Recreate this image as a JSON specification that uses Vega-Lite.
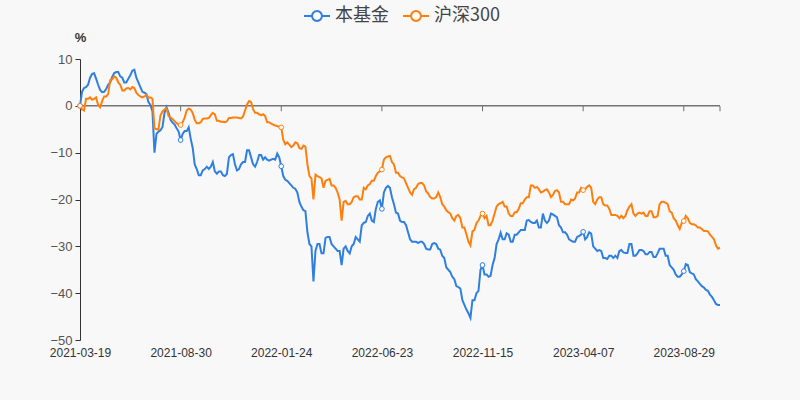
{
  "$schema": "https://vega.github.io/schema/vega-lite/v6.json",
  "width": 640,
  "height": 281,
  "autosize": {"type": "none"},
  "padding": {"left": 80, "top": 59, "right": 80, "bottom": 60},
  "background": "#f8f8f8",
  "config": {
    "view": {"stroke": null},
    "font": "Liberation Sans, Noto Sans CJK SC, sans-serif"
  },
  "datasets": {
    "d": [
      {"date": "2021-03-19", "本基金": 0, "沪深300": 0},
      {"date": "2021-03-23", "本基金": 3.0, "沪深300": -0.8},
      {"date": "2021-03-26", "本基金": 3.8, "沪深300": -1.0},
      {"date": "2021-03-30", "本基金": 4.0, "沪深300": 1.5},
      {"date": "2021-04-01", "本基金": 4.5, "沪深300": 1.5},
      {"date": "2021-04-06", "本基金": 6.0, "沪深300": 1.8},
      {"date": "2021-04-08", "本基金": 6.8, "沪深300": 1.3},
      {"date": "2021-04-12", "本基金": 7.0, "沪深300": 1.5},
      {"date": "2021-04-14", "本基金": 5.8, "沪深300": 1.8},
      {"date": "2021-04-19", "本基金": 4.5, "沪深300": 0.2},
      {"date": "2021-04-21", "本基金": 3.4, "沪深300": -0.3},
      {"date": "2021-04-23", "本基金": 2.9, "沪深300": 1.0},
      {"date": "2021-04-27", "本基金": 3.0, "沪深300": 2.0},
      {"date": "2021-04-30", "本基金": 3.6, "沪深300": 2.0},
      {"date": "2021-05-06", "本基金": 4.5, "沪深300": 2.5},
      {"date": "2021-05-07", "本基金": 5.0, "沪深300": 5.5},
      {"date": "2021-05-10", "本基金": 6.2, "沪深300": 5.7},
      {"date": "2021-05-13", "本基金": 7.0, "沪深300": 6.3},
      {"date": "2021-05-17", "本基金": 7.2, "沪深300": 6.0},
      {"date": "2021-05-20", "本基金": 7.2, "沪深300": 5.0},
      {"date": "2021-05-24", "本基金": 6.3, "沪深300": 4.5},
      {"date": "2021-05-27", "本基金": 6.0, "沪深300": 3.3},
      {"date": "2021-05-31", "本基金": 5.0, "沪深300": 3.3},
      {"date": "2021-06-03", "本基金": 5.0, "沪深300": 3.7},
      {"date": "2021-06-07", "本基金": 5.8, "沪深300": 3.8},
      {"date": "2021-06-09", "本基金": 6.5, "沪深300": 3.5},
      {"date": "2021-06-11", "本基金": 7.5, "沪深300": 4.0},
      {"date": "2021-06-16", "本基金": 7.7, "沪深300": 3.8},
      {"date": "2021-06-18", "本基金": 6.0, "沪深300": 2.8},
      {"date": "2021-06-22", "本基金": 5.0, "沪深300": 2.3},
      {"date": "2021-06-25", "本基金": 4.0, "沪深300": 2.0},
      {"date": "2021-06-29", "本基金": 3.0, "沪深300": 1.8},
      {"date": "2021-07-02", "本基金": 2.8, "沪深300": 2.0},
      {"date": "2021-07-06", "本基金": 2.5, "沪深300": 2.3},
      {"date": "2021-07-09", "本基金": 0.8, "沪深300": 1.8},
      {"date": "2021-07-13", "本基金": 0.2, "沪深300": 1.8},
      {"date": "2021-07-15", "本基金": -1.2, "沪深300": 1.5},
      {"date": "2021-07-19", "本基金": -10.0, "沪深300": -4.8},
      {"date": "2021-07-22", "本基金": -6.0, "沪深300": -5.0},
      {"date": "2021-07-26", "本基金": -5.5, "沪深300": -5.0},
      {"date": "2021-07-28", "本基金": -5.2, "沪深300": -2.0},
      {"date": "2021-08-02", "本基金": -4.5, "沪深300": -1.2},
      {"date": "2021-08-04", "本基金": -1.5, "沪深300": -0.8},
      {"date": "2021-08-06", "本基金": -0.3, "沪深300": -0.5},
      {"date": "2021-08-10", "本基金": -1.5, "沪深300": -2.2},
      {"date": "2021-08-13", "本基金": -3.0, "沪深300": -2.5},
      {"date": "2021-08-17", "本基金": -3.6, "沪深300": -2.8},
      {"date": "2021-08-19", "本基金": -4.0, "沪深300": -3.3},
      {"date": "2021-08-23", "本基金": -4.8, "沪深300": -3.7},
      {"date": "2021-08-26", "本基金": -5.5, "沪深300": -4.0},
      {"date": "2021-08-30", "本基金": -7.3, "沪深300": -4.1},
      {"date": "2021-09-02", "本基金": -6.0, "沪深300": -3.5},
      {"date": "2021-09-06", "本基金": -5.4, "沪深300": -2.5},
      {"date": "2021-09-08", "本基金": -5.4, "沪深300": -1.0},
      {"date": "2021-09-10", "本基金": -4.6, "沪深300": -0.6},
      {"date": "2021-09-15", "本基金": -7.0, "沪深300": -0.8},
      {"date": "2021-09-17", "本基金": -9.0, "沪深300": -1.5},
      {"date": "2021-09-22", "本基金": -12.5, "沪深300": -3.0},
      {"date": "2021-09-23", "本基金": -13.5, "沪深300": -3.7},
      {"date": "2021-09-27", "本基金": -14.8, "沪深300": -3.7},
      {"date": "2021-09-28", "本基金": -14.8, "沪深300": -3.5},
      {"date": "2021-09-30", "本基金": -13.8, "沪深300": -2.8},
      {"date": "2021-10-08", "本基金": -13.5, "沪深300": -2.7},
      {"date": "2021-10-09", "本基金": -13.0, "沪深300": -2.7},
      {"date": "2021-10-11", "本基金": -13.5, "沪深300": -2.6},
      {"date": "2021-10-13", "本基金": -13.0, "沪深300": -2.0},
      {"date": "2021-10-15", "本基金": -12.0, "沪深300": -1.5},
      {"date": "2021-10-19", "本基金": -14.0, "沪深300": -1.8},
      {"date": "2021-10-22", "本基金": -14.5, "沪深300": -3.2},
      {"date": "2021-10-26", "本基金": -14.0, "沪深300": -3.2},
      {"date": "2021-10-28", "本基金": -14.0, "沪深300": -3.4},
      {"date": "2021-11-01", "本基金": -14.8, "沪深300": -3.4},
      {"date": "2021-11-03", "本基金": -15.0, "沪深300": -3.5},
      {"date": "2021-11-05", "本基金": -14.5, "沪深300": -3.3},
      {"date": "2021-11-09", "本基金": -11.0, "沪深300": -2.6},
      {"date": "2021-11-11", "本基金": -10.5, "沪深300": -2.6},
      {"date": "2021-11-15", "本基金": -10.3, "沪深300": -2.5},
      {"date": "2021-11-17", "本基金": -12.5, "沪深300": -2.5},
      {"date": "2021-11-19", "本基金": -13.8, "沪深300": -2.5},
      {"date": "2021-11-23", "本基金": -13.5, "沪深300": -2.6},
      {"date": "2021-11-26", "本基金": -12.5, "沪深300": -2.7},
      {"date": "2021-11-30", "本基金": -12.0, "沪深300": -2.3},
      {"date": "2021-12-02", "本基金": -12.0, "沪深300": -1.0},
      {"date": "2021-12-06", "本基金": -9.5, "沪深300": 0.3},
      {"date": "2021-12-08", "本基金": -9.5, "沪深300": 1.0},
      {"date": "2021-12-10", "本基金": -11.0, "沪深300": 0.8},
      {"date": "2021-12-14", "本基金": -12.5, "沪深300": -0.7},
      {"date": "2021-12-16", "本基金": -13.0, "沪深300": -1.5},
      {"date": "2021-12-20", "本基金": -12.0, "沪深300": -1.5},
      {"date": "2021-12-23", "本基金": -10.5, "沪深300": -1.8},
      {"date": "2021-12-27", "本基金": -10.5, "沪深300": -2.0},
      {"date": "2021-12-29", "本基金": -11.5, "沪深300": -1.8},
      {"date": "2021-12-31", "本基金": -11.0, "沪深300": -2.2},
      {"date": "2022-01-04", "本基金": -11.5, "沪深300": -3.5},
      {"date": "2022-01-06", "本基金": -11.7, "沪深300": -3.5},
      {"date": "2022-01-10", "本基金": -11.5, "沪深300": -3.8},
      {"date": "2022-01-12", "本基金": -11.3, "沪深300": -4.0},
      {"date": "2022-01-14", "本基金": -11.5, "沪深300": -4.2},
      {"date": "2022-01-18", "本基金": -10.2, "沪深300": -4.3},
      {"date": "2022-01-20", "本基金": -11.0, "沪深300": -4.5},
      {"date": "2022-01-24", "本基金": -12.9, "沪深300": -4.6},
      {"date": "2022-01-26", "本基金": -15.0, "沪深300": -7.3},
      {"date": "2022-01-28", "本基金": -15.8, "沪深300": -8.2},
      {"date": "2022-02-02", "本基金": -16.0, "沪深300": -7.8},
      {"date": "2022-02-07", "本基金": -16.5, "沪深300": -8.3},
      {"date": "2022-02-09", "本基金": -17.0, "沪深300": -8.8},
      {"date": "2022-02-11", "本基金": -17.5, "沪深300": -8.5},
      {"date": "2022-02-15", "本基金": -17.7, "沪深300": -7.8},
      {"date": "2022-02-17", "本基金": -18.5, "沪深300": -8.0},
      {"date": "2022-02-21", "本基金": -20.5, "沪深300": -9.0},
      {"date": "2022-02-23", "本基金": -21.5, "沪深300": -9.2},
      {"date": "2022-02-25", "本基金": -22.3, "沪深300": -8.5},
      {"date": "2022-03-01", "本基金": -22.5, "沪深300": -8.7},
      {"date": "2022-03-03", "本基金": -27.0, "沪深300": -12.5},
      {"date": "2022-03-07", "本基金": -29.5, "沪深300": -15.0},
      {"date": "2022-03-10", "本基金": -30.0, "沪深300": -15.5},
      {"date": "2022-03-14", "本基金": -37.5, "沪深300": -20.0},
      {"date": "2022-03-16", "本基金": -31.0, "沪深300": -14.7},
      {"date": "2022-03-18", "本基金": -29.5, "沪深300": -15.0},
      {"date": "2022-03-22", "本基金": -29.5, "沪深300": -15.2},
      {"date": "2022-03-25", "本基金": -31.5, "沪深300": -15.5},
      {"date": "2022-03-29", "本基金": -31.5, "沪深300": -17.5},
      {"date": "2022-03-31", "本基金": -28.2, "沪深300": -16.0},
      {"date": "2022-04-01", "本基金": -28.0, "沪深300": -15.8},
      {"date": "2022-04-06", "本基金": -28.0, "沪深300": -15.6},
      {"date": "2022-04-08", "本基金": -29.5, "沪深300": -17.0},
      {"date": "2022-04-12", "本基金": -30.0, "沪深300": -17.0},
      {"date": "2022-04-14", "本基金": -30.5, "沪深300": -17.5},
      {"date": "2022-04-18", "本基金": -31.0, "沪深300": -18.5},
      {"date": "2022-04-21", "本基金": -31.0, "沪深300": -20.0},
      {"date": "2022-04-25", "本基金": -34.0, "沪深300": -24.5},
      {"date": "2022-04-27", "本基金": -30.5, "沪深300": -20.5},
      {"date": "2022-04-29", "本基金": -30.0, "沪深300": -20.3},
      {"date": "2022-05-04", "本基金": -31.0, "沪深300": -21.0},
      {"date": "2022-05-06", "本基金": -31.5, "沪深300": -21.0},
      {"date": "2022-05-10", "本基金": -30.0, "沪深300": -20.5},
      {"date": "2022-05-12", "本基金": -29.5, "沪深300": -19.5},
      {"date": "2022-05-16", "本基金": -28.0, "沪深300": -19.3},
      {"date": "2022-05-18", "本基金": -28.5, "沪深300": -19.3},
      {"date": "2022-05-20", "本基金": -29.0, "沪深300": -20.0},
      {"date": "2022-05-24", "本基金": -25.5, "沪深300": -20.0},
      {"date": "2022-05-26", "本基金": -25.0, "沪深300": -17.5},
      {"date": "2022-05-30", "本基金": -24.8, "沪深300": -17.8},
      {"date": "2022-06-02", "本基金": -23.5, "沪深300": -17.0},
      {"date": "2022-06-06", "本基金": -23.0, "沪深300": -16.7},
      {"date": "2022-06-08", "本基金": -24.5, "沪深300": -16.0},
      {"date": "2022-06-10", "本基金": -24.8, "沪深300": -16.0},
      {"date": "2022-06-14", "本基金": -22.0, "沪深300": -15.0},
      {"date": "2022-06-17", "本基金": -20.5, "沪深300": -14.3},
      {"date": "2022-06-21", "本基金": -20.2, "沪深300": -14.0},
      {"date": "2022-06-23", "本基金": -22.0, "沪深300": -13.6},
      {"date": "2022-06-27", "本基金": -18.5, "沪深300": -11.5},
      {"date": "2022-06-29", "本基金": -17.5, "沪深300": -11.0},
      {"date": "2022-07-01", "本基金": -17.1, "沪深300": -10.8},
      {"date": "2022-07-05", "本基金": -17.5, "沪深300": -10.7},
      {"date": "2022-07-07", "本基金": -19.5, "沪深300": -12.0},
      {"date": "2022-07-11", "本基金": -21.0, "沪深300": -12.5},
      {"date": "2022-07-13", "本基金": -22.8, "沪深300": -14.3},
      {"date": "2022-07-15", "本基金": -23.0, "沪深300": -14.3},
      {"date": "2022-07-19", "本基金": -24.5, "沪深300": -15.0},
      {"date": "2022-07-22", "本基金": -24.8, "沪深300": -15.3},
      {"date": "2022-07-26", "本基金": -24.8, "沪深300": -15.5},
      {"date": "2022-07-28", "本基金": -25.5, "沪深300": -16.5},
      {"date": "2022-08-01", "本基金": -27.0, "沪深300": -17.5},
      {"date": "2022-08-03", "本基金": -28.5, "沪深300": -18.5},
      {"date": "2022-08-05", "本基金": -29.0, "沪深300": -19.0},
      {"date": "2022-08-08", "本基金": -29.0, "沪深300": -17.8},
      {"date": "2022-08-11", "本基金": -29.0, "沪深300": -17.5},
      {"date": "2022-08-15", "本基金": -29.3, "沪深300": -16.7},
      {"date": "2022-08-17", "本基金": -29.0, "沪深300": -16.5},
      {"date": "2022-08-19", "本基金": -29.0, "沪深300": -16.5},
      {"date": "2022-08-23", "本基金": -29.5, "沪深300": -17.0},
      {"date": "2022-08-26", "本基金": -30.5, "沪深300": -18.3},
      {"date": "2022-08-30", "本基金": -30.7, "沪深300": -18.7},
      {"date": "2022-09-01", "本基金": -30.7, "沪深300": -19.5},
      {"date": "2022-09-05", "本基金": -29.5, "沪深300": -19.8},
      {"date": "2022-09-06", "本基金": -29.3, "沪深300": -19.8},
      {"date": "2022-09-08", "本基金": -29.5, "沪深300": -19.5},
      {"date": "2022-09-13", "本基金": -30.5, "沪深300": -18.5},
      {"date": "2022-09-15", "本基金": -30.7, "沪深300": -19.5},
      {"date": "2022-09-19", "本基金": -32.0, "沪深300": -21.0},
      {"date": "2022-09-21", "本基金": -32.5, "沪深300": -21.5},
      {"date": "2022-09-23", "本基金": -34.5, "沪深300": -22.3},
      {"date": "2022-09-27", "本基金": -35.0, "沪深300": -22.7},
      {"date": "2022-09-30", "本基金": -35.5, "沪深300": -23.0},
      {"date": "2022-10-05", "本基金": -36.5, "沪深300": -24.0},
      {"date": "2022-10-10", "本基金": -37.0, "沪深300": -24.5},
      {"date": "2022-10-12", "本基金": -38.5, "沪深300": -23.5},
      {"date": "2022-10-14", "本基金": -38.7, "沪深300": -23.3},
      {"date": "2022-10-17", "本基金": -39.0, "沪深300": -24.0},
      {"date": "2022-10-18", "本基金": -41.5, "沪深300": -26.0},
      {"date": "2022-10-20", "本基金": -42.5, "沪深300": -26.0},
      {"date": "2022-10-24", "本基金": -43.5, "沪深300": -27.4},
      {"date": "2022-10-26", "本基金": -44.3, "沪深300": -29.0},
      {"date": "2022-10-28", "本基金": -45.3, "沪深300": -29.8},
      {"date": "2022-11-01", "本基金": -41.5, "沪深300": -26.8},
      {"date": "2022-11-03", "本基金": -41.5, "沪深300": -26.5},
      {"date": "2022-11-07", "本基金": -40.0, "沪深300": -25.0},
      {"date": "2022-11-09", "本基金": -39.5, "沪深300": -24.5},
      {"date": "2022-11-11", "本基金": -35.0, "沪深300": -23.5},
      {"date": "2022-11-15", "本基金": -34.0, "沪深300": -23.0},
      {"date": "2022-11-17", "本基金": -36.0, "沪深300": -24.0},
      {"date": "2022-11-21", "本基金": -36.0, "沪深300": -23.5},
      {"date": "2022-11-23", "本基金": -36.5, "沪深300": -25.5},
      {"date": "2022-11-25", "本基金": -36.3, "沪深300": -25.5},
      {"date": "2022-11-29", "本基金": -34.0, "沪深300": -24.5},
      {"date": "2022-12-02", "本基金": -32.5, "沪深300": -23.0},
      {"date": "2022-12-06", "本基金": -29.5, "沪深300": -21.5},
      {"date": "2022-12-08", "本基金": -28.5, "沪深300": -21.0},
      {"date": "2022-12-12", "本基金": -27.1, "沪深300": -20.8},
      {"date": "2022-12-14", "本基金": -28.5, "沪深300": -20.5},
      {"date": "2022-12-16", "本基金": -28.5, "沪深300": -21.5},
      {"date": "2022-12-19", "本基金": -27.2, "沪深300": -21.5},
      {"date": "2022-12-21", "本基金": -27.5, "沪深300": -23.0},
      {"date": "2022-12-23", "本基金": -29.0, "沪深300": -23.5},
      {"date": "2022-12-27", "本基金": -29.0, "沪深300": -23.5},
      {"date": "2022-12-30", "本基金": -27.5, "沪深300": -22.7},
      {"date": "2023-01-03", "本基金": -27.5, "沪深300": -22.7},
      {"date": "2023-01-05", "本基金": -27.0, "沪深300": -22.0},
      {"date": "2023-01-09", "本基金": -26.5, "沪深300": -20.8},
      {"date": "2023-01-11", "本基金": -26.5, "沪深300": -20.8},
      {"date": "2023-01-13", "本基金": -26.5, "沪深300": -20.0},
      {"date": "2023-01-17", "本基金": -24.5, "沪深300": -19.5},
      {"date": "2023-01-18", "本基金": -24.4, "沪深300": -19.5},
      {"date": "2023-01-19", "本基金": -24.8, "沪深300": -17.0},
      {"date": "2023-01-25", "本基金": -25.0, "沪深300": -17.0},
      {"date": "2023-01-30", "本基金": -25.0, "沪深300": -17.5},
      {"date": "2023-02-01", "本基金": -24.5, "沪深300": -17.3},
      {"date": "2023-02-03", "本基金": -26.0, "沪深300": -17.8},
      {"date": "2023-02-07", "本基金": -26.0, "沪深300": -18.5},
      {"date": "2023-02-09", "本基金": -23.0, "沪深300": -18.3},
      {"date": "2023-02-13", "本基金": -24.5, "沪深300": -18.0},
      {"date": "2023-02-15", "本基金": -25.0, "沪深300": -17.8},
      {"date": "2023-02-17", "本基金": -24.5, "沪深300": -18.5},
      {"date": "2023-02-20", "本基金": -23.0, "沪深300": -19.5},
      {"date": "2023-02-22", "本基金": -23.2, "沪深300": -19.0},
      {"date": "2023-02-24", "本基金": -23.5, "沪深300": -18.2},
      {"date": "2023-02-28", "本基金": -23.8, "沪深300": -18.0},
      {"date": "2023-03-03", "本基金": -25.5, "沪深300": -18.5},
      {"date": "2023-03-07", "本基金": -26.0, "沪深300": -20.5},
      {"date": "2023-03-09", "本基金": -27.0, "沪深300": -20.5},
      {"date": "2023-03-13", "本基金": -27.0, "沪深300": -21.0},
      {"date": "2023-03-15", "本基金": -27.5, "沪深300": -21.0},
      {"date": "2023-03-17", "本基金": -28.5, "沪深300": -21.0},
      {"date": "2023-03-21", "本基金": -28.8, "沪深300": -20.0},
      {"date": "2023-03-23", "本基金": -29.0, "沪深300": -20.2},
      {"date": "2023-03-27", "本基金": -29.0, "沪深300": -19.8},
      {"date": "2023-03-29", "本基金": -28.0, "沪深300": -18.5},
      {"date": "2023-03-31", "本基金": -27.8, "沪深300": -18.5},
      {"date": "2023-04-04", "本基金": -27.5, "沪深300": -17.5},
      {"date": "2023-04-07", "本基金": -26.9, "沪深300": -18.0},
      {"date": "2023-04-11", "本基金": -28.5, "沪深300": -17.8},
      {"date": "2023-04-13", "本基金": -28.0, "沪深300": -17.3},
      {"date": "2023-04-17", "本基金": -27.0, "沪深300": -17.0},
      {"date": "2023-04-19", "本基金": -27.3, "沪深300": -17.5},
      {"date": "2023-04-21", "本基金": -30.0, "沪深300": -20.5},
      {"date": "2023-04-24", "本基金": -30.5, "沪深300": -21.0},
      {"date": "2023-04-26", "本基金": -31.0, "沪深300": -20.0},
      {"date": "2023-04-28", "本基金": -30.8, "沪深300": -19.5},
      {"date": "2023-05-04", "本基金": -31.0, "沪深300": -19.5},
      {"date": "2023-05-08", "本基金": -32.5, "沪深300": -21.0},
      {"date": "2023-05-10", "本基金": -32.5, "沪深300": -21.3},
      {"date": "2023-05-12", "本基金": -32.7, "沪深300": -21.3},
      {"date": "2023-05-15", "本基金": -32.0, "沪深300": -22.0},
      {"date": "2023-05-17", "本基金": -32.0, "沪深300": -23.3},
      {"date": "2023-05-19", "本基金": -32.5, "沪深300": -23.3},
      {"date": "2023-05-23", "本基金": -32.0, "沪深300": -23.3},
      {"date": "2023-05-25", "本基金": -32.5, "沪深300": -23.5},
      {"date": "2023-05-29", "本基金": -31.0, "沪深300": -24.0},
      {"date": "2023-05-31", "本基金": -30.8, "沪深300": -23.5},
      {"date": "2023-06-02", "本基金": -31.3, "沪深300": -24.0},
      {"date": "2023-06-06", "本基金": -31.4, "沪深300": -23.5},
      {"date": "2023-06-09", "本基金": -31.4, "沪深300": -22.3},
      {"date": "2023-06-13", "本基金": -29.5, "沪深300": -21.5},
      {"date": "2023-06-15", "本基金": -29.5, "沪深300": -21.0},
      {"date": "2023-06-19", "本基金": -32.0, "沪深300": -23.0},
      {"date": "2023-06-20", "本基金": -32.0, "沪深300": -23.5},
      {"date": "2023-06-26", "本基金": -31.5, "沪深300": -23.0},
      {"date": "2023-06-27", "本基金": -30.8, "沪深300": -22.8},
      {"date": "2023-06-30", "本基金": -30.8, "沪深300": -23.0},
      {"date": "2023-07-03", "本基金": -31.0, "沪深300": -22.8},
      {"date": "2023-07-05", "本基金": -31.7, "沪深300": -23.5},
      {"date": "2023-07-07", "本基金": -31.7, "沪深300": -23.5},
      {"date": "2023-07-11", "本基金": -31.2, "沪深300": -22.5},
      {"date": "2023-07-14", "本基金": -31.2, "沪深300": -22.5},
      {"date": "2023-07-18", "本基金": -32.3, "沪深300": -23.8},
      {"date": "2023-07-20", "本基金": -32.3, "沪深300": -23.8},
      {"date": "2023-07-24", "本基金": -31.5, "沪深300": -23.5},
      {"date": "2023-07-25", "本基金": -30.5, "沪深300": -21.0},
      {"date": "2023-07-27", "本基金": -30.5, "沪深300": -20.5},
      {"date": "2023-07-31", "本基金": -30.5, "沪深300": -20.5},
      {"date": "2023-08-02", "本基金": -32.0, "沪深300": -20.7},
      {"date": "2023-08-04", "本基金": -32.0, "沪深300": -21.0},
      {"date": "2023-08-08", "本基金": -34.0, "沪深300": -22.5},
      {"date": "2023-08-11", "本基金": -34.5, "沪深300": -22.8},
      {"date": "2023-08-15", "本基金": -35.0, "沪深300": -24.0},
      {"date": "2023-08-17", "本基金": -36.0, "沪深300": -24.5},
      {"date": "2023-08-21", "本基金": -36.5, "沪深300": -25.5},
      {"date": "2023-08-23", "本基金": -36.5, "沪深300": -26.3},
      {"date": "2023-08-25", "本基金": -36.0, "沪深300": -25.0},
      {"date": "2023-08-29", "本基金": -35.3, "沪深300": -24.6},
      {"date": "2023-08-31", "本基金": -33.8, "沪深300": -23.5},
      {"date": "2023-09-04", "本基金": -34.0, "沪深300": -24.0},
      {"date": "2023-09-06", "本基金": -35.5, "沪深300": -25.0},
      {"date": "2023-09-08", "本基金": -35.8, "沪深300": -25.3},
      {"date": "2023-09-11", "本基金": -36.0, "沪深300": -25.3},
      {"date": "2023-09-13", "本基金": -37.0, "沪深300": -25.5},
      {"date": "2023-09-15", "本基金": -37.5, "沪深300": -26.0},
      {"date": "2023-09-18", "本基金": -38.0, "沪深300": -26.0},
      {"date": "2023-09-20", "本基金": -38.5, "沪深300": -26.3},
      {"date": "2023-09-21", "本基金": -38.8, "沪深300": -26.7},
      {"date": "2023-09-25", "本基金": -39.3, "沪深300": -26.7},
      {"date": "2023-09-26", "本基金": -39.5, "沪深300": -26.8},
      {"date": "2023-09-28", "本基金": -40.3, "沪深300": -27.5},
      {"date": "2023-10-10", "本基金": -40.8, "沪深300": -28.0},
      {"date": "2023-10-12", "本基金": -41.5, "沪深300": -28.5},
      {"date": "2023-10-16", "本基金": -42.3, "沪深300": -29.8},
      {"date": "2023-10-18", "本基金": -42.5, "沪深300": -30.5},
      {"date": "2023-10-20", "本基金": -42.5, "沪深300": -30.3}
    ]
  },
  "layer": [
    {
      "data": {"values": [{}]},
      "mark": {"type": "rule", "color": "#333333", "strokeWidth": 1},
      "encoding": {"y": {"datum": 0, "type": "quantitative"}}
    },
    {
      "data": {"name": "d"},
      "transform": [
        {"filter": {"field": "date", "oneOf": ["2021-08-30", "2022-01-24", "2022-06-23", "2022-11-15", "2023-04-07", "2023-08-29", "2023-10-20"]}}
      ],
      "mark": {"type": "tick", "orient": "vertical", "size": 5, "thickness": 1, "yOffset": 3, "color": "#333333"},
      "encoding": {
        "x": {"field": "date", "type": "ordinal"},
        "y": {"datum": 0, "type": "quantitative"}
      }
    },
    {
      "data": {"name": "d"},
      "transform": [{"fold": ["本基金", "沪深300"], "as": ["series", "value"]}],
      "mark": {"type": "line", "strokeWidth": 2, "interpolate": "linear"},
      "encoding": {
        "x": {
          "field": "date",
          "type": "ordinal",
          "scale": {"type": "point", "padding": 0},
          "axis": {
            "title": null,
            "values": ["2021-03-19", "2021-08-30", "2022-01-24", "2022-06-23", "2022-11-15", "2023-04-07", "2023-08-29"],
            "domain": false,
            "ticks": false,
            "labelAngle": 0,
            "labelAlign": "center",
            "labelBaseline": "top",
            "labelPadding": 7,
            "labelFontSize": 12,
            "labelColor": "#333333",
            "grid": false
          }
        },
        "y": {
          "field": "value",
          "type": "quantitative",
          "scale": {"domain": [-50, 10], "nice": false, "zero": false},
          "axis": {
            "values": [-50, -40, -30, -20, -10, 0, 10],
            "title": "%",
            "titleAngle": 0,
            "titleX": 0,
            "titleY": -15,
            "titleAlign": "center",
            "titleBaseline": "bottom",
            "titleFontSize": 13,
            "titleFontWeight": "bold",
            "titleColor": "#333333",
            "domainColor": "#333333",
            "tickColor": "#333333",
            "tickSize": 5,
            "labelFontSize": 13,
            "labelColor": "#555555",
            "labelPadding": 3,
            "grid": false
          }
        },
        "color": {
          "field": "series",
          "type": "nominal",
          "scale": {"domain": ["本基金", "沪深300"], "range": ["#2f7fe0", "#ff7f0e"]},
          "legend": {
            "title": null,
            "orient": "none",
            "direction": "horizontal",
            "legendX": 223,
            "legendY": -57,
            "symbolType": "M-1,0L-0.38,0M0.38,0L1,0M0.38,0A0.38,0.38,0,1,1,-0.38,0A0.38,0.38,0,1,1,0.38,0",
            "symbolSize": 676,
            "symbolStrokeWidth": 2,
            "symbolFillColor": "#f8f8f8",
            "labelFontSize": 18,
            "labelFont": "Noto Sans CJK SC",
            "labelColor": "#444444",
            "labelOffset": 4,
            "columnPadding": 10
          }
        }
      }
    },
    {
      "data": {"name": "d"},
      "transform": [
        {"filter": {"field": "date", "oneOf": ["2021-03-19", "2021-08-30", "2022-01-24", "2022-06-23", "2022-11-15", "2023-04-07", "2023-08-29"]}},
        {"fold": ["本基金", "沪深300"], "as": ["series", "value"]}
      ],
      "mark": {"type": "point", "filled": false, "fill": "#ffffff", "fillOpacity": 1, "size": 22, "strokeWidth": 1, "opacity": 1},
      "encoding": {
        "x": {"field": "date", "type": "ordinal"},
        "y": {"field": "value", "type": "quantitative"},
        "color": {"field": "series", "type": "nominal"}
      }
    }
  ]
}
